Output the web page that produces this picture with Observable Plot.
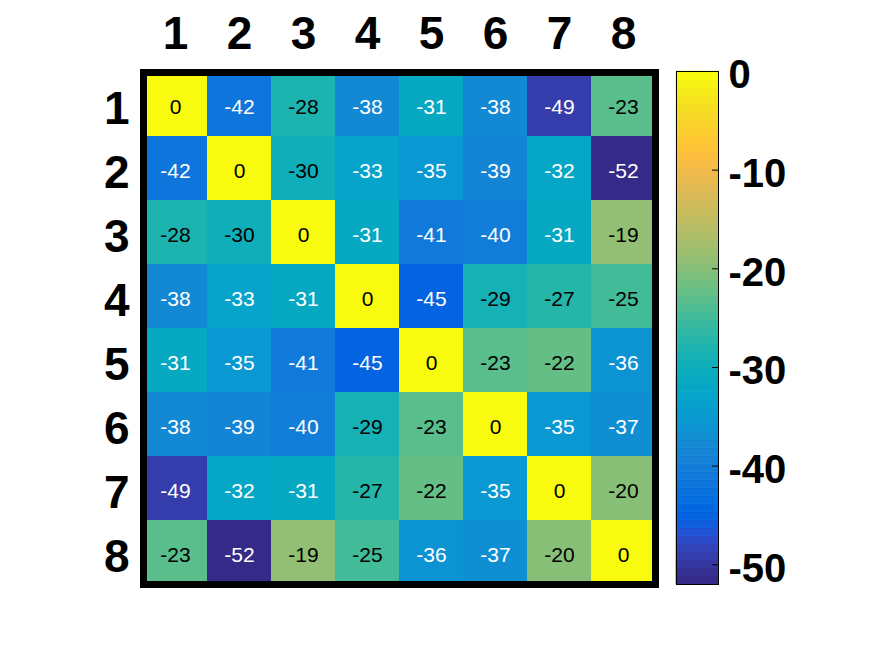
<!DOCTYPE html>
<html>
<head>
<meta charset="utf-8">
<script src="https://cdn.jsdelivr.net/npm/d3@7"></script>
<script src="https://cdn.jsdelivr.net/npm/@observablehq/plot@0.6"></script>
<style>
  html, body { margin: 0; padding: 0; background: white; }
  #wrap { position: relative; width: 875px; height: 656px; }
  #wrap svg { position: absolute; left: 0; top: 0; }
</style>
</head>
<body>
<div id="wrap"></div>
<script>
// Categories (row / column labels)
const labels = [1, 2, 3, 4, 5, 6, 7, 8];

// Matrix values, one array per row
const row1 = [0, -42, -28, -38, -31, -38, -49, -23];
const row2 = [-42, 0, -30, -33, -35, -39, -32, -52];
const row3 = [-28, -30, 0, -31, -41, -40, -31, -19];
const row4 = [-38, -33, -31, 0, -45, -29, -27, -25];
const row5 = [-31, -35, -41, -45, 0, -23, -22, -36];
const row6 = [-38, -39, -40, -29, -23, 0, -35, -37];
const row7 = [-49, -32, -31, -27, -22, -35, 0, -20];
const row8 = [-23, -52, -19, -25, -36, -37, -20, 0];
const rows = [row1, row2, row3, row4, row5, row6, row7, row8];

// Colorbar limits and tick labels
const colorLimits = [-52, 0];
const colorTicks = [-50, -40, -30, -20, -10, 0];

// Parula colormap (64 entries)
const parula = [
[0.2081,0.1663,0.5292],[0.2116,0.1898,0.5777],[0.2123,0.2138,0.6270],[0.2081,0.2386,0.6771],
[0.1959,0.2645,0.7279],[0.1707,0.2919,0.7792],[0.1253,0.3242,0.8303],[0.0591,0.3598,0.8683],
[0.0117,0.3875,0.8820],[0.0060,0.4086,0.8828],[0.0165,0.4266,0.8786],[0.0329,0.4430,0.8720],
[0.0498,0.4586,0.8641],[0.0629,0.4737,0.8554],[0.0723,0.4887,0.8467],[0.0779,0.5040,0.8384],
[0.0793,0.5200,0.8312],[0.0749,0.5375,0.8263],[0.0641,0.5570,0.8240],[0.0488,0.5772,0.8228],
[0.0343,0.5966,0.8199],[0.0265,0.6137,0.8135],[0.0239,0.6287,0.8038],[0.0231,0.6418,0.7913],
[0.0228,0.6535,0.7768],[0.0267,0.6642,0.7607],[0.0384,0.6743,0.7436],[0.0590,0.6838,0.7254],
[0.0843,0.6928,0.7062],[0.1133,0.7015,0.6859],[0.1453,0.7098,0.6646],[0.1801,0.7177,0.6424],
[0.2178,0.7250,0.6193],[0.2586,0.7317,0.5954],[0.3022,0.7376,0.5712],[0.3482,0.7424,0.5473],
[0.3953,0.7459,0.5244],[0.4420,0.7481,0.5033],[0.4871,0.7491,0.4840],[0.5300,0.7491,0.4661],
[0.5709,0.7485,0.4494],[0.6099,0.7473,0.4337],[0.6473,0.7456,0.4188],[0.6834,0.7435,0.4044],
[0.7184,0.7411,0.3905],[0.7525,0.7384,0.3768],[0.7858,0.7356,0.3633],[0.8185,0.7327,0.3498],
[0.8507,0.7299,0.3360],[0.8824,0.7274,0.3217],[0.9139,0.7258,0.3063],[0.9450,0.7261,0.2886],
[0.9739,0.7314,0.2666],[0.9938,0.7455,0.2403],[0.9990,0.7653,0.2164],[0.9955,0.7861,0.1967],
[0.9880,0.8066,0.1794],[0.9789,0.8271,0.1633],[0.9697,0.8481,0.1475],[0.9626,0.8705,0.1309],
[0.9589,0.8949,0.1132],[0.9598,0.9218,0.0948],[0.9661,0.9514,0.0755],[0.9763,0.9831,0.0538]
].map(([r, g, b]) => d3.rgb(Math.round(r * 255), Math.round(g * 255), Math.round(b * 255)).formatHex());

// Build the cell table from the arrays
const cells = [];
rows.forEach((r, i) => r.forEach((v, j) => cells.push({row: labels[i], col: labels[j], v})));

// Colorbar bands derived from the colormap
const bands = parula.map((c, i) => {
  const step = (colorLimits[1] - colorLimits[0]) / parula.length;
  const y1 = colorLimits[0] + i * step;
  return {y1, y2: y1 + step, v: y1 + step / 2};
});

const colorScale = {type: "quantize", domain: colorLimits, range: parula};
const font = "'Liberation Sans', Arial, Helvetica, sans-serif";

const main = Plot.plot({
  width: 875,
  height: 656,
  marginLeft: 143,
  marginRight: 220,
  marginTop: 72,
  marginBottom: 72,
  style: {fontFamily: font, color: "black", background: "white"},
  x: {type: "band", domain: labels, padding: 0},
  y: {type: "band", domain: labels, padding: 0},
  color: colorScale,
  marks: [
    Plot.cell(cells, {x: "col", y: "row", fill: "v", inset: 0, shapeRendering: "crispEdges"}),
    Plot.text(cells, {x: "col", y: "row", text: d => String(d.v), filter: d => d.v <= -30.5,
      fill: "white", fontSize: 21, dy: 2.5}),
    Plot.text(cells, {x: "col", y: "row", text: d => String(d.v), filter: d => d.v > -30.5,
      fill: "black", fontSize: 21, dy: 2.5}),
    Plot.axisX({anchor: "top", tickSize: 0, tickPadding: 24, fontSize: 46, fontWeight: "bold",
      label: null, tickFormat: d => String(d)}),
    Plot.axisY({anchor: "left", tickSize: 0, tickPadding: 14, fontSize: 46, fontWeight: "bold",
      label: null, tickFormat: d => String(d), dy: 5}),
    Plot.frame({stroke: "black", strokeWidth: 7})
  ]
});

const bar = Plot.plot({
  width: 875,
  height: 656,
  marginLeft: 676,
  marginRight: 157,
  marginTop: 71,
  marginBottom: 72,
  style: {fontFamily: font, color: "black", background: "transparent"},
  x: {domain: [0, 1], axis: null},
  y: {domain: colorLimits},
  color: colorScale,
  marks: [
    Plot.rectY(bands, {y1: "y1", y2: "y2", fill: "v", stroke: "v", strokeWidth: 0.6}),
    Plot.ruleY(colorTicks, {x1: 0.86, x2: 1, stroke: "black", strokeWidth: 1}),
    Plot.axisY({anchor: "right", ticks: colorTicks, tickSize: 0, tickPadding: 10, fontSize: 40,
      fontWeight: "bold", label: null, tickFormat: d => String(d), dy: 4}),
    Plot.frame({stroke: "black", strokeWidth: 1})
  ]
});

const wrap = document.getElementById("wrap");
wrap.appendChild(main);
wrap.appendChild(bar);
</script>
</body>
</html>
